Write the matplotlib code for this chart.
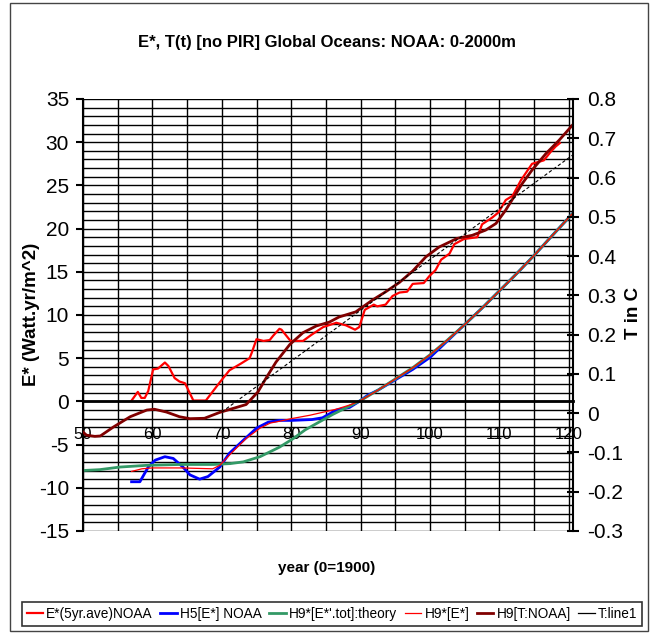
import matplotlib
matplotlib.use("Agg")
import matplotlib.pyplot as plt
from matplotlib.ticker import MultipleLocator, FuncFormatter
from matplotlib.patches import Rectangle
from matplotlib.lines import Line2D

plt.rcParams["font.family"] = ["Liberation Sans Narrow", "Liberation Sans", "DejaVu Sans"]
plt.rcParams["axes.unicode_minus"] = False

# E* 5-year average, NOAA (left axis)
red_yr = [57.0, 57.9, 58.4, 58.9, 59.4, 60.1, 60.8, 61.8, 62.3, 63.2, 63.9, 64.7, 65.9, 67.7,
          69.7, 71.1, 72.8, 74.0, 74.3, 75.0, 76.0, 76.9, 77.4, 78.3, 78.6, 79.9, 81.7, 82.9,
          84.6, 86.5, 87.9, 89.2, 89.8, 90.6, 91.9, 92.4, 93.6, 94.6, 95.6, 96.7, 97.5, 99.1,
          99.9, 100.8, 101.6, 102.8, 103.5, 104.9, 106.8, 107.5, 109.0, 109.9, 110.9, 111.9,
          113.1, 114.7, 116.4, 117.4, 118.1, 118.7]
red_e = [0.1, 1.1, 0.4, 0.4, 1.2, 3.7, 3.8, 4.5, 4.1, 2.7, 2.3, 2.1, 0.1, 0.1,
         2.2, 3.6, 4.4, 5.0, 5.6, 7.2, 7.0, 7.1, 7.6, 8.4, 8.3, 7.0, 7.0, 7.7,
         8.6, 9.1, 8.8, 8.3, 8.6, 10.6, 11.2, 11.0, 11.2, 12.2, 12.6, 12.7, 13.6, 13.7,
         14.5, 15.2, 16.4, 17.1, 18.2, 18.8, 19.0, 20.5, 21.3, 21.9, 23.3, 23.8,
         25.6, 27.5, 27.9, 28.9, 29.5, 29.9]

# H5 fit of E*, NOAA (left axis)
blue_yr = [57.0, 58.2, 59.4, 60.4, 61.8, 63.0, 64.4, 65.4, 66.8, 68.0, 69.7, 71.1, 73.1, 75.0,
           76.7, 78.3, 80.0, 83.0, 84.5, 86.5, 88.4, 89.6, 91.0, 92.5, 95.0, 97.5, 100.0,
           102.5, 105.0, 107.5, 110.0, 112.5, 115.0, 117.5, 120.6]
blue_e = [-9.3, -9.3, -7.6, -6.8, -6.4, -6.6, -7.6, -8.5, -9.0, -8.7, -7.6, -6.0, -4.5, -3.1,
          -2.4, -2.2, -2.2, -2.1, -1.9, -1.0, -0.7, -0.1, 0.7, 1.3, 2.5, 3.7, 5.1,
          7.0, 8.9, 10.8, 12.8, 14.8, 16.9, 19.1, 21.8]

# H9 theory, total E* (left axis)
green_yr = [50.0, 52.4, 55.3, 59.2, 64.0, 68.8, 71.2, 73.1, 75.5, 78.3, 80.3, 82.0, 84.0, 86.0,
            88.0, 90.0, 92.5, 95.0, 97.5, 100.0, 102.5, 105.0, 107.5, 110.0, 112.5, 115.0,
            117.5, 120.6]
green_e = [-8.0, -7.9, -7.6, -7.4, -7.3, -7.3, -7.2, -7.0, -6.4, -5.3, -4.3, -3.3, -2.4, -1.5,
           -0.7, 0.1, 1.3, 2.6, 3.9, 5.4, 7.1, 8.9, 10.8, 12.8, 14.8, 16.9, 19.1, 21.8]

# H9 fit of E* (left axis)
thin_yr = [57.0, 58.5, 60.0, 64.0, 68.7, 69.7, 71.6, 73.5, 75.5, 77.0, 78.3, 80.0, 82.7, 86.5,
           88.5, 90.0, 92.5, 95.0, 97.5, 100.0, 102.5, 105.0, 107.5, 110.0, 112.5, 115.0,
           117.5, 120.6]
thin_e = [-8.1, -7.8, -7.7, -7.7, -7.8, -7.4, -5.8, -4.3, -3.1, -2.5, -2.3, -2.0, -1.6, -0.9,
          -0.4, 0.1, 1.3, 2.6, 3.9, 5.4, 7.1, 8.9, 10.8, 12.8, 14.8, 16.9, 19.1, 21.8]

# H9 fit of NOAA temperature (right axis)
dred_yr = [50.0, 50.5, 51.7, 52.5, 54.4, 56.8, 59.2, 60.3, 62.0, 63.9, 65.4, 67.5, 69.7, 71.6,
           73.5, 75.2, 76.4, 77.8, 79.8, 81.7, 83.6, 85.5, 86.9, 89.3, 91.7, 93.6, 95.6, 97.5,
           99.4, 101.3, 103.9, 106.1, 108.0, 109.5, 110.9, 112.1, 113.3, 114.7, 116.7, 118.6,
           120.6]
dred_t = [-0.048, -0.056, -0.059, -0.058, -0.035, -0.009, 0.008, 0.010, 0.003, -0.009, -0.014,
          -0.013, 0.002, 0.012, 0.022, 0.054, 0.090, 0.130, 0.175, 0.205, 0.222, 0.232, 0.245,
          0.258, 0.288, 0.309, 0.333, 0.362, 0.398, 0.423, 0.445, 0.453, 0.466, 0.483, 0.517,
          0.551, 0.585, 0.619, 0.661, 0.695, 0.735]

# linear temperature trend (right axis)
line_yr = [70.0, 120.6]
line_t = [0.003, 0.658]

fig = plt.figure(figsize=(6.55, 6.34), dpi=100)
ax = fig.add_axes([83 / 655, 1 - 531 / 634, 490 / 655, 432 / 634])
ax2 = ax.twinx()

ax.set_xlim(50, 120.6)
ax.set_ylim(-15, 35)
ax2.set_ylim(-0.3, 0.8)

# grid: every 5 years, every 1 unit of E*
ax.xaxis.set_major_locator(MultipleLocator(10))
ax.xaxis.set_minor_locator(MultipleLocator(5))
ax.yaxis.set_major_locator(MultipleLocator(5))
ax.yaxis.set_minor_locator(MultipleLocator(1))
ax.grid(which="both", axis="both", color="black", lw=1.0)
ax.set_axisbelow(True)

l1, = ax.plot(red_yr, red_e, color="#ff0000", lw=1.6, label="E*(5yr.ave)NOAA")
l2, = ax.plot(blue_yr, blue_e, color="#0000ff", lw=2.0, label="H5[E*] NOAA")
l3, = ax.plot(green_yr, green_e, color="#339966", lw=2.0, label="H9*[E*'.tot]:theory")
l4, = ax.plot(thin_yr, thin_e, color="#ff0000", lw=0.9, label="H9*[E*]")
l5, = ax2.plot(dred_yr, dred_t, color="#800000", lw=2.0, label="H9[T:NOAA]")
ax2.plot(line_yr, line_t, color="black", lw=0.8, ls=(0, (3, 2)))
l6 = Line2D([], [], color="black", lw=0.9, label="T:line1")

for s in ["top", "right"]:
    ax.spines[s].set_visible(False)
ax.spines["bottom"].set_position(("data", 0))
ax.spines["bottom"].set_linewidth(2.0)
ax.spines["left"].set_linewidth(1.5)
for s in ["top", "left", "bottom"]:
    ax2.spines[s].set_visible(False)
ax2.spines["right"].set_linewidth(1.5)

ax.tick_params(axis="x", which="both", length=0, pad=18.5, labelsize=12)
ax.tick_params(axis="y", which="major", direction="out", length=5, width=1.5,
               labelsize=15, pad=5)
ax.tick_params(axis="y", which="minor", length=0)
ax.yaxis.set_major_formatter(FuncFormatter(lambda v, p: f"{v:g}"))

ax2.yaxis.set_major_locator(MultipleLocator(0.1))
ax2.yaxis.set_major_formatter(FuncFormatter(lambda v, p: f"{round(v, 1):g}"))
ax2.tick_params(axis="y", direction="inout", length=9, width=1.5, labelsize=15, pad=6)

fig.text(327 / 655, 1 - 42 / 634, "E*, T(t) [no PIR] Global Oceans: NOAA: 0-2000m",
         ha="center", va="center", fontsize=12, fontweight="bold")
fig.text(32 / 655, 1 - 314 / 634, "E* (Watt.yr/m^2)", rotation=90,
         ha="center", va="center", fontsize=13.5, fontweight="bold")
fig.text(633 / 655, 1 - 313 / 634, "T in C", rotation=90,
         ha="center", va="center", fontsize=13.5, fontweight="bold")
fig.text(327 / 655, 1 - 568 / 634, "year (0=1900)",
         ha="center", va="center", fontsize=11, fontweight="bold")

leg = fig.legend(handles=[l1, l2, l3, l4, l5, l6], ncol=6, loc="center",
                 bbox_to_anchor=(332 / 655, 1 - 614 / 634), fontsize=9.8,
                 frameon=True, fancybox=False, handlelength=1.2, handletextpad=0.25,
                 columnspacing=0.55, borderpad=0.35, borderaxespad=0)
leg.get_frame().set_edgecolor("black")
leg.get_frame().set_linewidth(1.2)

# outer chart border
fig.patches.append(Rectangle((10 / 655, 3 / 634), 638 / 655, 628 / 634,
                             transform=fig.transFigure, fill=False,
                             edgecolor="#444444", lw=1.0))

fig.savefig("out.png", dpi=100)
